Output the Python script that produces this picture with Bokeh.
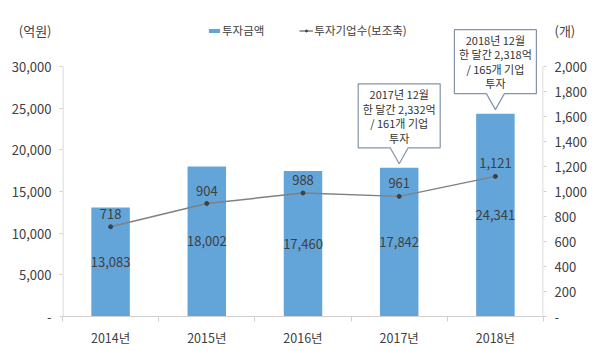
from bokeh.plotting import figure
from bokeh.models import (Range1d, LinearAxis, FixedTicker, Legend, LegendItem)
from bokeh.core.properties import value
from bokeh.embed import file_html
from bokeh.resources import INLINE

# ---------------- data ----------------
categories = ["2014년", "2015년", "2016년", "2017년", "2018년"]
invest_amount = [13083, 18002, 17460, 17842, 24341]        # 억원
company_count = [718, 904, 988, 961, 1121]                 # 개
left_ticks = [0, 5000, 10000, 15000, 20000, 25000, 30000]
left_tick_labels = ["-", "5,000", "10,000", "15,000", "20,000", "25,000", "30,000"]
right_ticks = [0, 200, 400, 600, 800, 1000, 1200, 1400, 1600, 1800, 2000]
right_tick_labels = ["-", "200", "400", "600", "800", "1,000", "1,200", "1,400", "1,600", "1,800", "2,000"]
legend_labels = ["투자금액", "투자기업수(보조축)"]
unit_labels = ["(억원)", "(개)"]
callout_years = ["2017년", "2018년"]
callout_lines = [["2017년 12월", "한 달간 2,332억", "/ 161개 기업", "투자"],
                 ["2018년 12월", "한 달간 2,318억", "/ 165개 기업", "투자"]]

# ---------------- style / layout ----------------
FONT = "Noto Sans CJK KR"
TXT = "#404040"
BAR = "#63a5d9"
LINE = "#808080"
MARK = "#404040"
AXIS = "#d0d0d0"
BOX = "#8494aa"

W, H = 600, 351
FL, FR, FT, FB = 62, 543, 10, 316          # frame edges in px
UNIT_Y = 30                                 # px row of the unit captions
LEFT_MAX, RIGHT_MAX = 30000, 2000
AX_PX = FB - 66                             # px used by axis span (0..max)
frame_h = FB - FT
y_end = LEFT_MAX * frame_h / AX_PX
y2_end = RIGHT_MAX * frame_h / AX_PX
n = len(categories)
xs = list(range(n))
px_per_cat = (FR - FL) / n
units_per_px = LEFT_MAX / AX_PX
units2_per_px = RIGHT_MAX / AX_PX
left_unit_pos = int(round((FB - UNIT_Y) * units_per_px))
right_unit_pos = int(round((FB - UNIT_Y) * units2_per_px))

p = figure(width=W, height=H, output_backend="svg", toolbar_location=None,
           x_range=Range1d(-0.5, n - 0.5), y_range=Range1d(0, y_end),
           min_border_left=FL, min_border_right=W - FR,
           min_border_top=FT, min_border_bottom=H - FB,
           outline_line_color=None, background_fill_color="white",
           border_fill_color="white")
p.extra_y_ranges = {"cnt": Range1d(0, y2_end)}
p.grid.visible = False

# left axis (unit caption shown as an extra label at the top)
ya = p.yaxis[0]
ya.ticker = FixedTicker(ticks=left_ticks + [left_unit_pos], minor_ticks=left_ticks)
ya.major_label_overrides = {**{t: l for t, l in zip(left_ticks, left_tick_labels)},
                            left_unit_pos: unit_labels[0]}
ya.bounds = (0, left_unit_pos)

# right axis
ra = LinearAxis(y_range_name="cnt",
                ticker=FixedTicker(ticks=right_ticks + [right_unit_pos], minor_ticks=right_ticks),
                major_label_overrides={**{t: l for t, l in zip(right_ticks, right_tick_labels)},
                                       right_unit_pos: unit_labels[1]},
                bounds=(0, right_unit_pos))
p.add_layout(ra, "right")

for ax in (ya, ra):
    ax.axis_line_color = None
    ax.major_tick_line_color = None
    ax.major_tick_out = 3
    ax.major_tick_in = 0
    ax.minor_tick_line_color = AXIS
    ax.minor_tick_out = 3
    ax.minor_tick_in = 0
    ax.major_label_standoff = 8
    ax.major_label_text_font = FONT
    ax.major_label_text_font_size = "13px"
    ax.major_label_text_color = TXT

# axis lines limited to the value span
edge = 0.5 / px_per_cat
p.segment(x0=[-0.5 + edge], y0=[0], x1=[-0.5 + edge], y1=[LEFT_MAX],
          line_color=AXIS, line_width=1)
p.segment(x0=[n - 0.5 - edge], y0=[0], x1=[n - 0.5 - edge], y1=[LEFT_MAX],
          line_color=AXIS, line_width=1)

# bottom axis
xa = p.xaxis[0]
xa.ticker = FixedTicker(ticks=xs, minor_ticks=[i - 0.5 for i in range(n + 1)])
xa.major_label_overrides = {i: c for i, c in zip(xs, categories)}
xa.axis_line_color = AXIS
xa.major_tick_out = 0
xa.major_tick_in = 0
xa.minor_tick_out = 5
xa.minor_tick_in = 0
xa.minor_tick_line_color = AXIS
xa.major_label_standoff = 6
xa.major_label_text_font = FONT
xa.major_label_text_font_size = "12.5px"
xa.major_label_text_color = TXT

# bars
bars = p.vbar(x=xs, top=invest_amount, width=0.4, fill_color=BAR, line_color=None)
p.text(x=xs, y=[v / 2 for v in invest_amount], text=[f"{v:,}" for v in invest_amount],
       text_align="center", text_baseline="middle", text_font=value(FONT),
       text_font_size="13px", text_color=TXT)

# line on secondary axis
ln = p.line(x=xs, y=company_count, y_range_name="cnt", line_color=LINE, line_width=1.5)
mk = p.scatter(x=xs, y=company_count, y_range_name="cnt", size=4,
               fill_color=MARK, line_color=MARK)
p.text(x=xs, y=company_count, y_range_name="cnt", y_offset=-13,
       text=[f"{v:,}" for v in company_count],
       text_align="center", text_baseline="middle", text_font=value(FONT),
       text_font_size="13px", text_color=TXT)

# callouts (anchored on the bar tops)
shape = [(0, 4), (9, 20), (41, 20), (41, 84), (-41, 84), (-41, 20), (-9, 20)]
LINE_GAP = 14.5
pxs, pys, tx, ty, tt = [], [], [], [], []
for yr, lines in zip(callout_years, callout_lines):
    i = categories.index(yr)
    v = invest_amount[i]
    pxs.append([i + dx / px_per_cat for dx, dy in shape])
    pys.append([v + dy * units_per_px for dx, dy in shape])
    mid = 52
    k = len(lines)
    for j, s in enumerate(lines):
        tx.append(i)
        ty.append(v + (mid + ((k - 1) / 2 - j) * LINE_GAP) * units_per_px)
        tt.append(s)
p.patches(xs=pxs, ys=pys, fill_color="white", line_color=BOX, line_width=1.2)
p.text(x=tx, y=ty, text=tt, text_align="center", text_baseline="middle",
       text_font=value(FONT), text_font_size="11px", text_color="#333333")

# legend
legend = Legend(items=[LegendItem(label=legend_labels[0], renderers=[bars]),
                       LegendItem(label=legend_labels[1], renderers=[ln, mk])],
                orientation="horizontal", location=(145, 278),
                border_line_color=None, background_fill_alpha=0,
                glyph_width=14, glyph_height=5, label_standoff=1, spacing=35,
                padding=0, margin=0, label_text_font=FONT,
                label_text_font_size="11.5px", label_text_color=TXT)
p.add_layout(legend)

open("out.html", "w").write(file_html(p, INLINE))
